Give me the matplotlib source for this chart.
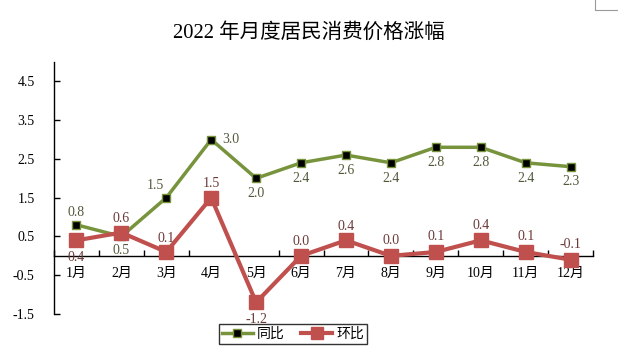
import matplotlib
matplotlib.use("Agg")
import matplotlib.pyplot as plt
from matplotlib.lines import Line2D

months = ["1月", "2月", "3月", "4月", "5月", "6月", "7月", "8月", "9月", "10月", "11月", "12月"]
yoy = [0.8, 0.5, 1.5, 3.0, 2.0, 2.4, 2.6, 2.4, 2.8, 2.8, 2.4, 2.3]
mom = [0.4, 0.6, 0.1, 1.5, -1.2, 0.0, 0.4, 0.0, 0.1, 0.4, 0.1, -0.1]
yticks = [-1.5, -0.5, 0.5, 1.5, 2.5, 3.5, 4.5]
title = "2022 年月度居民消费价格涨幅"
series_names = ["同比", "环比"]

# label placement: (dx points, dy points)
yoy_off = [(0, 9), (0, -10), (-8, 9), (14, 0), (0, -11), (0, -11), (0, -11), (0, -11), (0, -11), (0, -11), (0, -11), (0, -11)]
mom_off = [(0, -12), (0, 10), (0, 10), (0, 10), (0, -12), (0, 10), (0, 10), (0, 11), (0, 11), (0, 11), (0, 11), (0, 11)]

green = "#77933C"
red = "#C0504D"
serif = ["Liberation Serif", "Noto Sans CJK SC"]
sans_cjk = ["Noto Sans CJK SC", "DejaVu Sans"]

fig = plt.figure(figsize=(6.18, 3.6), dpi=100)
ax = fig.add_axes([54/618, 1-314/360, (593-54)/618, (314-62)/360])

x = list(range(1, 13))
ax.plot(x, yoy, color=green, lw=2.5, marker="s", ms=6, mfc="black", mec=green, mew=1, zorder=3)
ax.plot(x, mom, color=red, lw=3, marker="s", ms=9.5, mfc=red, mec=red, zorder=4)

for xi, v, (dx, dy) in zip(x, yoy, yoy_off):
    ax.annotate(f"{v:.1f}", (xi, v), xytext=(dx, dy), textcoords="offset points",
                ha="center", va="center", fontsize=10, color="#4F5A3A", family=serif)
for xi, v, (dx, dy) in zip(x, mom, mom_off):
    ax.annotate(f"{v:.1f}", (xi, v), xytext=(dx, dy), textcoords="offset points",
                ha="center", va="center", fontsize=10, color="#6B3A38", family=serif)

ax.set_xlim(0.5, 12.5)
ax.set_ylim(-1.5, 5.0)
ax.set_yticks(yticks)
ax.set_yticklabels([f"{t:.1f}" for t in yticks], family=serif, fontsize=10)
ax.tick_params(axis="y", direction="in", length=4, pad=14, width=1)

ax.set_xticks([i + 0.5 for i in range(0, 13)])
ax.set_xticklabels([])
ax.tick_params(axis="x", direction="in", length=4, width=1)
for xi, m in zip(x, months):
    ax.text(xi, -0.45, m, ha="center", va="center", fontsize=10, family=serif)

for s in ["top", "right"]:
    ax.spines[s].set_visible(False)
ax.spines["bottom"].set_position(("data", 0))
ax.spines["left"].set_linewidth(1)
ax.spines["bottom"].set_linewidth(1)

fig.text(0.5, 1-33/360, title, ha="center", va="center", fontsize=14.8, family=serif)

handles = [
    Line2D([], [], color=green, lw=2.5, marker="s", ms=6, mfc="black", mec=green),
    Line2D([], [], color=red, lw=3, marker="s", ms=9, mfc=red, mec=red),
]
leg = fig.legend(handles, series_names, loc="center", bbox_to_anchor=(293/618, 1-334/360),
                 ncol=2, frameon=True, fancybox=False, edgecolor="black",
                 prop={"family": sans_cjk, "size": 10}, handlelength=2.2, borderpad=0.2,
                 columnspacing=1.2, handletextpad=0.3)
leg.get_frame().set_linewidth(1)

# page corner artifact
fig.add_artist(Line2D([595/618, 595/618, 1.0], [1.0, 1-10/360, 1-10/360], color="#999999", lw=0.8))

fig.savefig("out.png", dpi=100)
